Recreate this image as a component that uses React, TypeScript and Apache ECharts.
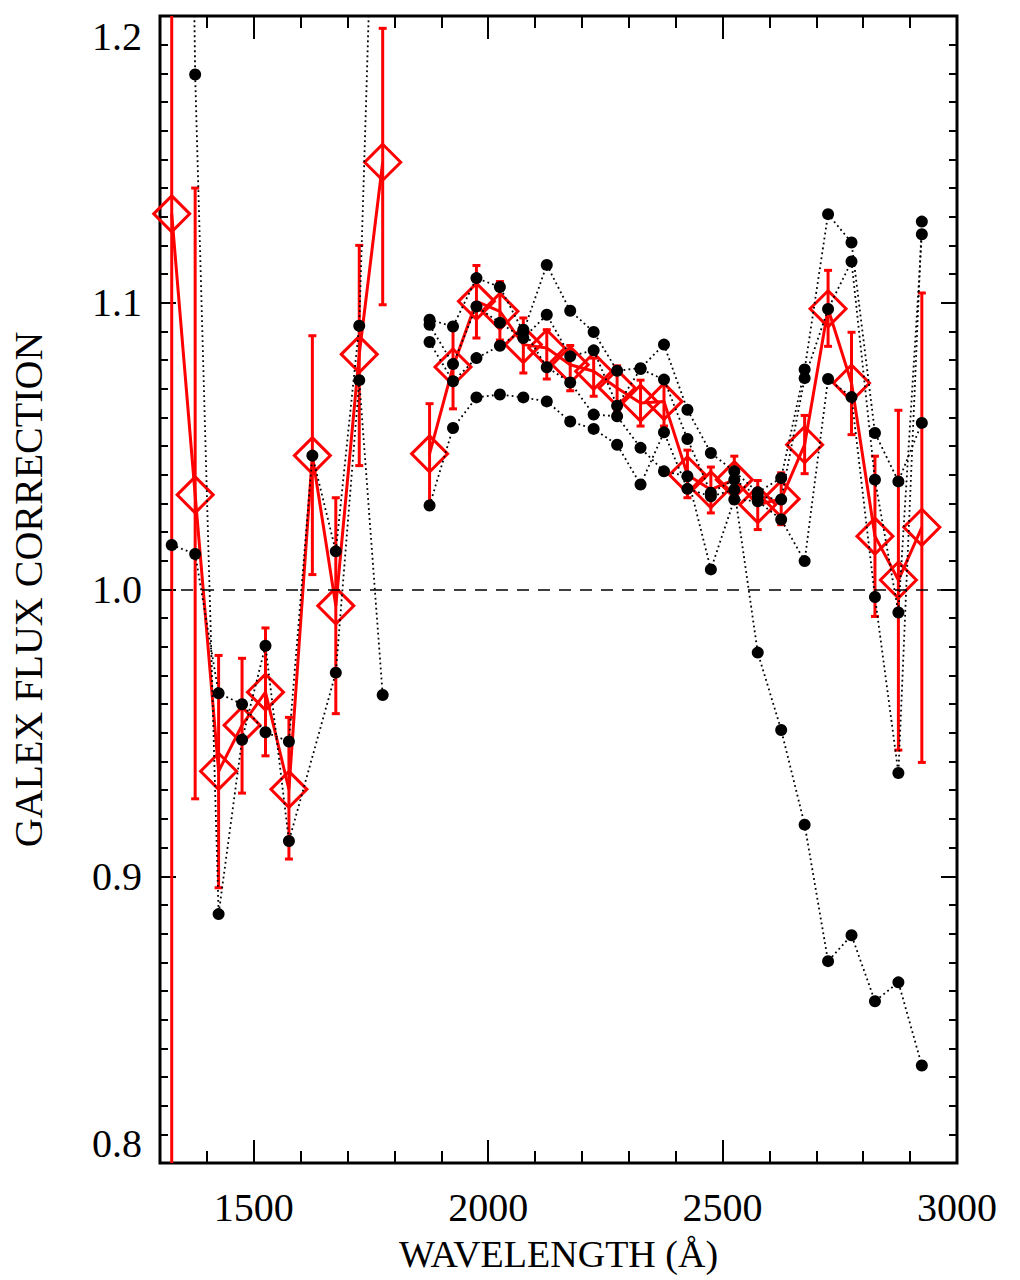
import React, { useEffect, useRef } from "react";
import * as echarts from "echarts";

// Wavelength grids (Å)
const X_FUV = [1325, 1375, 1425, 1475, 1525, 1575, 1625, 1675, 1725, 1775];
const X_NUV = [
  1875, 1925, 1975, 2025, 2075, 2125, 2175, 2225, 2275, 2325, 2375,
  2425, 2475, 2525, 2575, 2625, 2675, 2725, 2775, 2825, 2875, 2925,
];

// Mean correction (red diamonds) with error ranges
const RED_FUV = [1.131, 1.033, 0.9366, 0.9527, 0.9642, 0.9303, 1.0467, 0.9943, 1.082, 1.149];
const RED_FUV_LO = [0.7, 0.927, 0.896, 0.929, 0.942, 0.906, 1.0052, 0.9567, 1.0432, 1.0993];
const RED_FUV_HI = [1.6, 1.14, 0.977, 0.976, 0.9866, 0.9554, 1.0885, 1.032, 1.12, 1.1957];

const RED_NUV = [
  1.0473, 1.0776, 1.1005, 1.097, 1.0854, 1.0842, 1.0784, 1.0761, 1.0703, 1.065, 1.0656,
  1.04, 1.0348, 1.0383, 1.0296, 1.0316, 1.0505, 1.0979, 1.072, 1.0186, 1.0033, 1.0217,
];
const RED_NUV_LO = [
  1.03, 1.063, 1.0877, 1.087, 1.0755, 1.0734, 1.0693, 1.0674, 1.062, 1.057, 1.057,
  1.032, 1.0267, 1.0302, 1.0209, 1.0226, 1.0404, 1.0848, 1.054, 0.9906, 0.944, 0.9397,
];
const RED_NUV_HI = [
  1.0648, 1.0915, 1.113, 1.1074, 1.0947, 1.0906, 1.0851, 1.0807, 1.078, 1.073, 1.074,
  1.0486, 1.0427, 1.0465, 1.038, 1.0407, 1.0607, 1.1113, 1.0897, 1.0465, 1.0625, 1.1034,
];

// Individual corrections (black dots, dotted lines)
const FUV_1 = [1.0155, 1.0124, 0.9638, 0.96, 0.9502, 0.947, 1.0467, 1.0133, 1.092, 1.36];
const FUV_2 = [1.8, 1.1796, 0.8868, 0.9476, 0.9804, 0.9123, null, 0.971, 1.073, 0.9632];

const NUV_A = [
  1.0941, 1.0917, 1.1086, 1.1055, 1.0898, 1.1132, 1.0972, 1.0898, 1.0763, 1.0772, 1.0854,
  1.0627, 1.0476, 1.0412, 1.0339, 1.0389, 1.0767, 1.1309, 1.121, 1.0546, 1.0377, 1.0581,
];
const NUV_B = [
  1.0923, 1.0786, 1.0987, 1.093, 1.0877, 1.0958, 1.0813, 1.0834, 1.0641, 1.0769, 1.0732,
  1.0525, 1.0337, 1.0383, 1.0325, 1.0314, 1.0737, 1.0978, 1.1144, 1.0383, 0.992, 1.1239,
];
const NUV_C = [
  1.0863, 1.0726, 1.0807, 1.085, 1.0906, 1.0775, 1.0722, 1.061, 1.0604, 1.0494, 1.0412,
  1.0395, 1.007, 1.0314, 1.0308, 1.0244, 1.0099, 1.0734, 1.0671, 0.9974, 0.936, 1.1283,
];
const NUV_D = [
  1.0293, 1.0563, 1.067, 1.068, 1.067, 1.0656, 1.0586, 1.056, 1.0505, 1.0366, 1.0548,
  1.0351, 1.0325, 1.0348, 0.978, 0.951, 0.918, 0.8704, 0.8794, 0.8564, 0.863, 0.834,
];

const X_MAJOR = [1500, 2000, 2500, 3000];
const X_MINOR = [1400, 1600, 1700, 1800, 1900, 2100, 2200, 2300, 2400, 2600, 2700, 2800, 2900];

const RED = "#ff0000";
const FONT = "Liberation Serif";

const pairs = (xs: number[], ys: (number | null)[]) =>
  xs.map((x, i) => [x, ys[i] === null ? "-" : ys[i]]);

export default function App() {
  const ref = useRef<HTMLDivElement>(null);

  useEffect(() => {
    if (!ref.current) return;
    const chart = echarts.init(ref.current, undefined, { renderer: "svg" });

    const errData = [
      ...X_FUV.map((x, i) => [x, RED_FUV_LO[i], RED_FUV_HI[i]]),
      ...X_NUV.map((x, i) => [x, RED_NUV_LO[i], RED_NUV_HI[i]]),
    ];

    const xCommon = {
      type: "value",
      min: 1300,
      max: 3000,
      interval: 100,
      splitLine: { show: false },
      axisLine: { show: false },
    };
    const yCommon = {
      type: "value",
      min: 0.8,
      max: 1.2,
      interval: 0.1,
      splitLine: { show: false },
      minorSplitLine: { show: false },
      axisLine: { show: false },
      axisTick: { show: true, inside: true, length: 16, lineStyle: { color: "#000", width: 2 } },
      minorTick: { show: true, splitNumber: 10, length: 8, lineStyle: { color: "#000", width: 2 } },
    };

    const blackLine = (data: any[], extra: any = {}) => ({
      type: "line",
      data,
      z: 5,
      symbol: "circle",
      symbolSize: 12,
      connectNulls: true,
      clip: true,
      itemStyle: { color: "#000" },
      lineStyle: { color: "#000", width: 1.8, type: [1.8, 3.2] },
      ...extra,
    });

    const redLine = (data: any[]) => ({
      type: "line",
      data,
      z: 3,
      symbol: "diamond",
      symbolSize: [36, 36],
      clip: true,
      itemStyle: { color: "rgba(0,0,0,0)", borderColor: RED, borderWidth: 3 },
      lineStyle: { color: RED, width: 3 },
    });

    chart.setOption({
      animation: false,
      backgroundColor: "#fff",
      grid: {
        left: 157,
        right: 63,
        top: 16,
        bottom: 117,
        show: true,
        borderColor: "#000",
        borderWidth: 3,
        backgroundColor: "rgba(0,0,0,0)",
      },
      xAxis: [
        {
          ...xCommon,
          position: "bottom",
          name: "WAVELENGTH (Å)",
          nameLocation: "middle",
          nameGap: 72,
          nameTextStyle: { fontFamily: FONT, fontSize: 38, color: "#000" },
          axisLabel: {
            customValues: X_MAJOR,
            fontFamily: FONT,
            fontSize: 40,
            color: "#000",
            margin: 24,
            formatter: (v: number) => String(Math.round(v)),
          },
          axisTick: {
            customValues: X_MAJOR,
            inside: true,
            length: 23,
            lineStyle: { color: "#000", width: 2 },
          },
        },
        {
          ...xCommon,
          position: "bottom",
          axisLabel: { show: false },
          axisTick: {
            customValues: X_MINOR,
            inside: true,
            length: 12,
            lineStyle: { color: "#000", width: 2 },
          },
        },
        {
          ...xCommon,
          position: "top",
          axisLabel: { show: false },
          axisTick: {
            customValues: X_MAJOR,
            inside: true,
            length: 23,
            lineStyle: { color: "#000", width: 2 },
          },
        },
        {
          ...xCommon,
          position: "top",
          axisLabel: { show: false },
          axisTick: {
            customValues: X_MINOR,
            inside: true,
            length: 12,
            lineStyle: { color: "#000", width: 2 },
          },
        },
      ],
      yAxis: [
        {
          ...yCommon,
          position: "left",
          name: "GALEX FLUX CORRECTION",
          nameLocation: "middle",
          nameGap: 112,
          nameRotate: 90,
          nameTextStyle: { fontFamily: FONT, fontSize: 40, color: "#000" },
          axisLabel: {
            fontFamily: FONT,
            fontSize: 40,
            color: "#000",
            margin: 18,
            verticalAlignMaxLabel: "top",
            verticalAlignMinLabel: "bottom",
            formatter: (v: number) => v.toFixed(1),
          },
        },
        {
          ...yCommon,
          position: "right",
          axisLabel: { show: false },
        },
      ],
      series: [
        {
          type: "custom",
          z: 2,
          clip: true,
          data: errData,
          renderItem: (params: any, api: any) => {
            const x = api.value(0);
            const lo = api.value(1);
            const hi = api.value(2);
            const pLo = api.coord([x, lo]);
            const pHi = api.coord([x, hi]);
            const cs = params.coordSys;
            const top = cs.y;
            const bottom = cs.y + cs.height;
            const y1 = Math.max(pHi[1], top);
            const y2 = Math.min(pLo[1], bottom);
            const style = { stroke: RED, lineWidth: 3 };
            const children: any[] = [
              { type: "line", shape: { x1: pHi[0], y1, x2: pHi[0], y2 }, style },
            ];
            const cap = 4;
            if (pHi[1] >= top) {
              children.push({
                type: "line",
                shape: { x1: pHi[0] - cap, y1: pHi[1], x2: pHi[0] + cap, y2: pHi[1] },
                style,
              });
            }
            if (pLo[1] <= bottom) {
              children.push({
                type: "line",
                shape: { x1: pLo[0] - cap, y1: pLo[1], x2: pLo[0] + cap, y2: pLo[1] },
                style,
              });
            }
            return { type: "group", children };
          },
        },
        redLine(pairs(X_FUV, RED_FUV)),
        redLine(pairs(X_NUV, RED_NUV)),
        blackLine(pairs(X_FUV, FUV_1), {
          markLine: {
            silent: true,
            symbol: "none",
            label: { show: false },
            lineStyle: { color: "#000", width: 1.6, type: [12, 9] },
            data: [{ yAxis: 1.0 }],
          },
        }),
        blackLine(pairs(X_FUV, FUV_2)),
        blackLine(pairs(X_NUV, NUV_A)),
        blackLine(pairs(X_NUV, NUV_B)),
        blackLine(pairs(X_NUV, NUV_C)),
        blackLine(pairs(X_NUV, NUV_D)),
      ],
    });

    return () => chart.dispose();
  }, []);

  return (
    <div
      ref={ref}
      style={{ position: "absolute", left: 0, top: 0, width: "1020px", height: "1280px" }}
    />
  );
}
